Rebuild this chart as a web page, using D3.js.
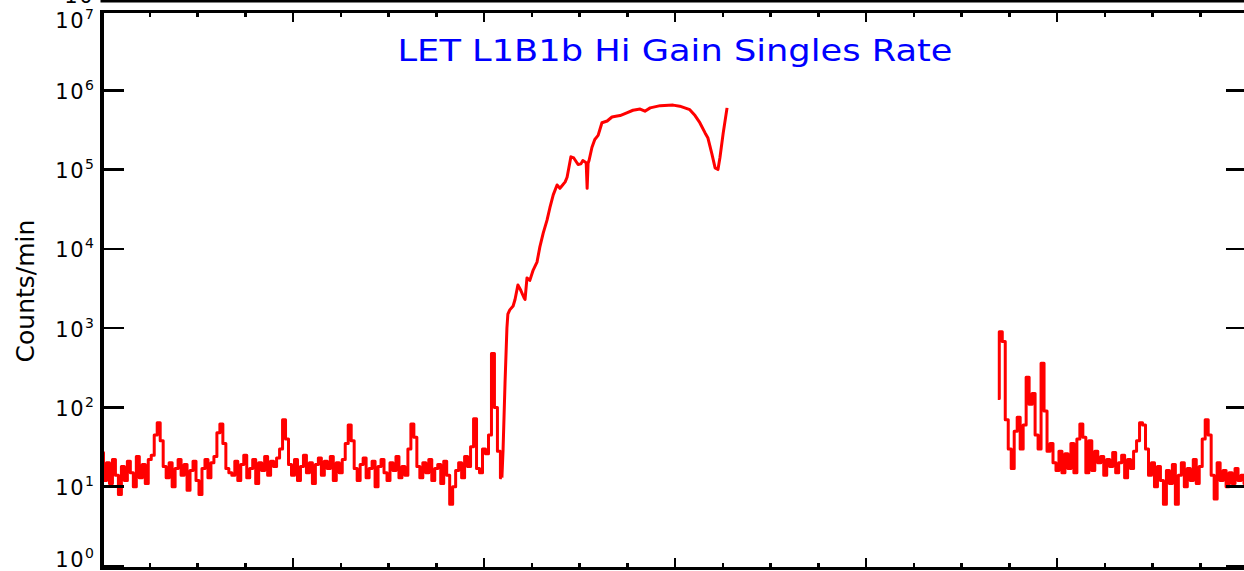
<!DOCTYPE html>
<html>
<head>
<meta charset="utf-8">
<script src="https://cdn.jsdelivr.net/npm/d3@7"></script>
<style>
html,body{margin:0;padding:0;background:#fff;}
svg{display:block;}
</style>
</head>
<body>
<svg id="chart" width="1244" height="571"></svg>
<script>
// ---------- DATA ----------
const titleText = "LET L1B1b Hi Gain Singles Rate";
const yLabelText = "Counts/min";
const yTickExponents = [0, 1, 2, 3, 4, 5, 6, 7];
const xMajorTicks = [0, 4, 8, 12, 16, 20, 24];   // hours (unlabelled)
const xMinorStep = 1;
const sampleStep = 1 / 16;                        // hours between samples

// segment 1: quiet period, samples every 1/16 h starting at t = 0
const quietStart = 0;
const quietValues = [
  27, 12, 20, 11, 22, 14, 8, 18, 12, 21, 15, 10, 24, 13, 19, 11, 22,
  25, 45, 64, 38, 18,
  13, 20, 10, 17, 22, 14, 19, 9, 16, 21, 12, 8, 17, 22, 13, 20,
  24, 48, 62, 35, 17,
  15, 14, 21, 12, 19, 25, 13, 17, 22, 11, 20, 16, 24, 14, 21, 18, 23,
  30, 70, 40, 19, 14,
  22, 12, 18, 25, 15, 20, 11, 19, 23, 14, 21, 17, 24, 12, 20, 15, 22,
  35, 60, 38, 17, 12,
  19, 23, 13, 17, 21, 10, 18, 22, 15, 12, 20, 16, 24, 13, 18, 14,
  30, 62, 42, 18, 13,
  20, 15, 22, 12, 17, 19, 11, 21, 14, 6, 10, 16, 20, 13, 24, 18, 32,
  72, 17, 15, 30, 26, 45, 480, 100, 28, 13
];

// segment 1 continued: event rise (hours, counts/min)
const riseTimes = [
  8.40, 8.44, 8.48, 8.50, 8.54, 8.61, 8.65, 8.71, 8.77, 8.84, 8.86, 8.90, 8.96,
  9.03, 9.11, 9.17, 9.24, 9.32, 9.38, 9.45, 9.53, 9.59, 9.63, 9.70, 9.74, 9.82,
  9.88, 9.97, 10.03, 10.07, 10.14, 10.16, 10.18, 10.20, 10.26, 10.32, 10.39,
  10.47, 10.58, 10.68, 10.76, 10.85, 10.99, 11.12, 11.27, 11.37, 11.48, 11.69,
  11.96, 12.10, 12.31, 12.42, 12.52, 12.63, 12.69, 12.77, 12.84, 12.90, 12.94,
  13.01, 13.09
];
const riseValues = [
  30, 200, 1000, 1500, 1700, 1900, 2300, 3500, 3000, 2400, 2300, 4300, 4000,
  5400, 6800, 10600, 15800, 23000, 33000, 48000, 64000, 58000, 62000, 70000, 80000, 145000,
  140000, 116000, 118000, 130000, 122000, 58000, 120000, 130000, 190000, 240000, 270000,
  390000, 410000, 460000, 470000, 480000, 520000, 560000, 580000, 545000, 600000, 640000,
  650000, 630000, 570000, 480000, 390000, 290000, 250000, 160000, 105000, 100000, 140000,
  290000, 600000
];

// segment 2: after data gap, samples every 1/16 h
const lateStart = 18.76;
const lateValues = [
  130, 900, 680, 70, 30, 17, 50, 75, 30, 60,
  240, 110, 150, 45, 30, 360, 90, 28, 35, 20,
  16, 28, 15, 26, 17, 35, 15, 40, 62, 42,
  15, 38, 16, 28, 20, 24, 14, 22, 18, 27,
  15, 20, 25, 13, 22, 17, 28, 38, 64, 60,
  30, 14, 20, 10, 18, 12, 6, 16, 11, 19,
  6, 14, 20, 10, 17, 12, 22, 11, 18, 40,
  70, 45, 14, 7, 20, 12, 16, 10, 15, 11,
  17, 12, 14, 11
];

// ---------- BUILD ----------
const quiet = quietValues.map((v, i) => ({t: quietStart + i * sampleStep, v}));
const rise = [quiet[quiet.length - 1]].concat(riseTimes.map((t, i) => ({t, v: riseValues[i]})));
const late = lateValues.map((v, i) => ({t: lateStart + i * sampleStep, v}));

const svg = d3.select("#chart");
const L = 102, R = 1248, T = 11, B = 566, BAXIS = 568.5;

const x = d3.scaleLinear().domain([0, 24]).range([L, R]);
const y = d3.scaleLog().domain([1, 1e7]).range([B, T]);

svg.append("defs").append("clipPath").attr("id", "clip")
  .append("rect").attr("x", L).attr("y", T).attr("width", R - L).attr("height", B - T);

// data lines
const stepLine = d3.line().curve(d3.curveStep).x(d => x(d.t)).y(d => y(d.v));
const smoothLine = d3.line().x(d => x(d.t)).y(d => y(d.v));
const gData = svg.append("g").attr("clip-path", "url(#clip)");
[[quiet, stepLine], [rise, smoothLine], [late, stepLine]].forEach(([seg, gen]) => {
  gData.append("path").datum(seg).attr("d", gen)
    .attr("fill", "none").attr("stroke", "#ff0000")
    .attr("stroke-width", 3).attr("stroke-linejoin", "round");
});

// previous panel bottom edge (cropped at top)
svg.append("line").attr("x1", L - 1.5).attr("x2", R).attr("y1", 1).attr("y2", 1)
  .attr("stroke", "#000").attr("stroke-width", 3);
svg.append("text").attr("x", 94).attr("y", 3).attr("text-anchor", "end")
  .attr("font-family", "DejaVu Sans").attr("font-size", 21).attr("letter-spacing", 1.5)
  .attr("fill", "#000").text("10");

// frame
const ax = svg.append("g").attr("stroke", "#000").attr("shape-rendering", "crispEdges");
ax.append("line").attr("x1", L - 1.5).attr("x2", R).attr("y1", T).attr("y2", T).attr("stroke-width", 3);
ax.append("line").attr("x1", L - 1.5).attr("x2", R).attr("y1", BAXIS).attr("y2", BAXIS).attr("stroke-width", 3);
ax.append("line").attr("x1", L).attr("x2", L).attr("y1", T - 1.5).attr("y2", BAXIS + 1.5).attr("stroke-width", 3.5);
ax.append("line").attr("x1", R).attr("x2", R).attr("y1", T - 1.5).attr("y2", BAXIS + 1.5).attr("stroke-width", 3.5);

// y ticks (left and right)
const yTicks = yTickExponents.map(e => Math.pow(10, e));
yTicks.forEach(v => {
  ax.append("line").attr("x1", L).attr("x2", L + 22).attr("y1", y(v)).attr("y2", y(v)).attr("stroke-width", 2.5);
  ax.append("line").attr("x1", R - 22).attr("x2", R).attr("y1", y(v)).attr("y2", y(v)).attr("stroke-width", 2.5);
});

// x ticks (top and bottom)
const xMinor = d3.range(0, 24 + 1e-9, xMinorStep).filter(t => !xMajorTicks.includes(t));
xMajorTicks.forEach(t => {
  ax.append("line").attr("x1", x(t)).attr("x2", x(t)).attr("y1", BAXIS).attr("y2", BAXIS - 10.5).attr("stroke-width", 2.5);
  ax.append("line").attr("x1", x(t)).attr("x2", x(t)).attr("y1", T).attr("y2", T + 11).attr("stroke-width", 2.5);
});
xMinor.forEach(t => {
  ax.append("line").attr("x1", x(t)).attr("x2", x(t)).attr("y1", BAXIS).attr("y2", BAXIS - 5.5).attr("stroke-width", 2.5);
  ax.append("line").attr("x1", x(t)).attr("x2", x(t)).attr("y1", T).attr("y2", T + 5.5).attr("stroke-width", 2.5);
});

// y tick labels
yTickExponents.forEach((e, i) => {
  let base = y(Math.pow(10, e)) + 8.5;
  if (i === yTickExponents.length - 1) base = y(Math.pow(10, e)) + 17;
  if (i === 0) base = y(Math.pow(10, e)) + 1;
  const tx = svg.append("text").attr("x", 94).attr("y", base).attr("text-anchor", "end")
    .attr("font-family", "DejaVu Sans").attr("fill", "#000");
  tx.append("tspan").attr("font-size", 21).attr("letter-spacing", 1.5).text("10");
  tx.append("tspan").attr("font-size", 14).attr("dy", -9).text(String(e));
});

// title
svg.append("text").attr("x", (L + R) / 2).attr("y", 61).attr("text-anchor", "middle")
  .attr("font-family", "DejaVu Sans").attr("font-size", 31)
  .attr("textLength", 555).attr("lengthAdjust", "spacingAndGlyphs")
  .attr("fill", "#0000ff").text(titleText);

// y axis label
svg.append("text").attr("transform", "translate(34,291) rotate(-90)")
  .attr("text-anchor", "middle").attr("font-family", "DejaVu Sans").attr("font-size", 25)
  .attr("fill", "#000").text(yLabelText);
</script>
</body>
</html>
